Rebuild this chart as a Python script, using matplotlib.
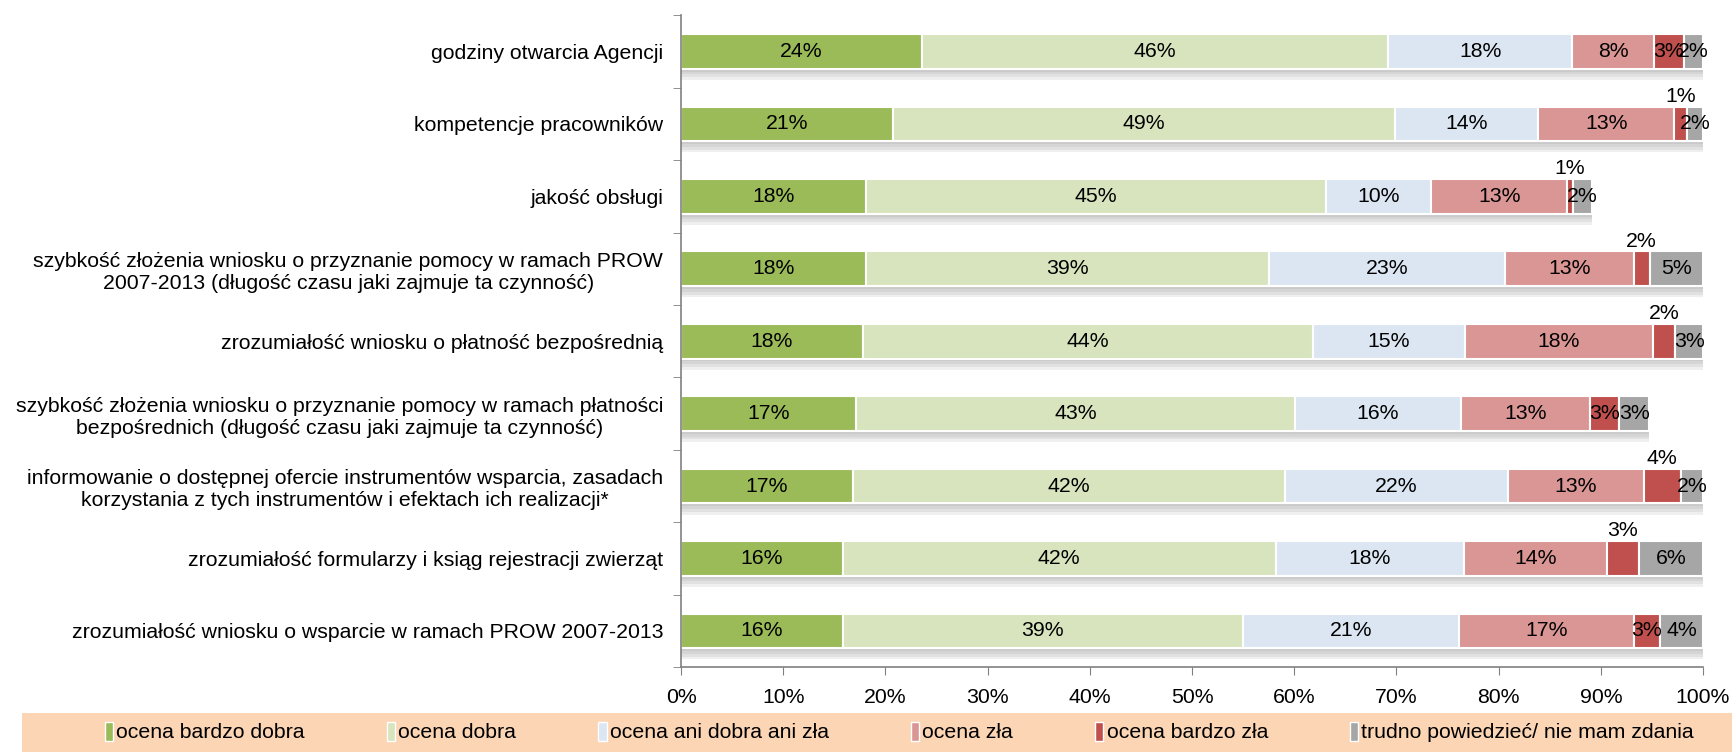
import matplotlib
matplotlib.use("Agg")
import matplotlib.pyplot as plt
import matplotlib.patheffects as pe
from matplotlib.patches import Patch, Rectangle
import numpy as np

plt.rcParams['font.family'] = ['Liberation Sans', 'DejaVu Sans']

categories = [
    "godziny otwarcia Agencji",
    "kompetencje pracowników",
    "jakość obsługi",
    "szybkość złożenia wniosku o przyznanie pomocy w ramach PROW\n2007-2013 (długość czasu jaki zajmuje ta czynność)",
    "zrozumiałość wniosku o płatność bezpośrednią",
    "szybkość złożenia wniosku o przyznanie pomocy w ramach płatności\nbezpośrednich (długość czasu jaki zajmuje ta czynność)",
    "informowanie o dostępnej ofercie instrumentów wsparcia, zasadach\nkorzystania z tych instrumentów i efektach ich realizacji*",
    "zrozumiałość formularzy i ksiąg rejestracji zwierząt",
    "zrozumiałość wniosku o wsparcie w ramach PROW 2007-2013",
]

series_names = ["ocena bardzo dobra", "ocena dobra", "ocena ani dobra ani zła",
                "ocena zła", "ocena bardzo zła", "trudno powiedzieć/ nie mam zdania"]

bardzo_dobra = [23.6, 20.7, 18.1, 18.1, 17.8, 17.1, 16.8, 15.8, 15.8]
dobra        = [45.6, 49.2, 45.0, 39.4, 44.0, 43.0, 42.3, 42.4, 39.2]
ani_ani      = [18.0, 14.0, 10.3, 23.1, 14.9, 16.2, 21.8, 18.4, 21.1]
zla          = [8.0, 13.3, 13.3, 12.6, 18.4, 12.6, 13.3, 14.0, 17.1]
bardzo_zla   = [2.9, 1.2, 0.6, 1.6, 2.2, 2.9, 3.6, 3.1, 2.6]
trudno       = [1.9, 1.6, 1.8, 5.2, 2.7, 2.9, 2.2, 6.3, 4.2]

colors = ["#9BBB59", "#D7E4BD", "#DCE6F2", "#D99694", "#C0504D", "#A6A6A6"]

# rows where the "bardzo zła" label sits above the bar
raised = [1, 2, 3, 4, 6, 7]

FS = 15.3

fig = plt.figure(figsize=(17.33, 7.52), dpi=100)
ax = fig.add_axes([0.393, 0.1128, 0.5897, 0.8669])

data = [bardzo_dobra, dobra, ani_ani, zla, bardzo_zla, trudno]
y = np.arange(len(categories))
left = np.zeros(len(categories))
shadow = [pe.SimplePatchShadow(offset=(0, -d), shadow_rgbFace="#808080", alpha=0.12)
          for d in (2, 4, 6, 8)] + [pe.Normal()]

for k, (vals, col) in enumerate(zip(data, colors)):
    vals = np.array(vals)
    bars = ax.barh(y, vals, left=left, height=0.48, color=col,
                   edgecolor="white", linewidth=1.5, zorder=2)
    for b in bars:
        b.set_path_effects(shadow)
    for i, v in enumerate(vals):
        cx = left[i] + v / 2
        txt = f"{int(v + 0.5)}%"
        if k == 4 and i in raised:
            ax.text(cx, y[i] - 0.25, txt, ha="center", va="bottom", fontsize=FS, zorder=3)
        else:
            ax.text(cx, y[i], txt, ha="center", va="center", fontsize=FS, zorder=3)
    left += vals

ax.set_xlim(0, 100)
ax.set_ylim(len(categories) - 0.5, -0.5)
ax.set_yticks(y)
ax.set_yticklabels(categories, fontsize=FS)
for t in ax.get_yticklabels():
    t.set_multialignment("center")
ax.set_yticks(np.arange(-0.5, len(categories), 1.0), minor=True)
ax.tick_params(axis="y", which="major", length=0, pad=13)
ax.tick_params(axis="y", which="minor", length=6, color="#808080", direction="out")
ax.set_xticks(np.arange(0, 101, 10))
ax.set_xticklabels([f"{v}%" for v in range(0, 101, 10)], fontsize=FS)
ax.tick_params(axis="x", length=6, color="#808080", pad=9)

for s in ["top", "right"]:
    ax.spines[s].set_visible(False)
for s in ["left", "bottom"]:
    ax.spines[s].set_color("#808080")
    ax.spines[s].set_linewidth(1.2)

# legend band
fig.patches.append(Rectangle((22 / 1733, 0), 1 - 22 / 1733, 39 / 752,
                             transform=fig.transFigure, facecolor="#FCD5B5",
                             edgecolor="none", zorder=0))
handles = [Patch(facecolor=c, edgecolor="white") for c in colors]
fig.legend(handles, series_names, loc="center", bbox_to_anchor=(0.519, 20 / 752),
           ncol=6, frameon=False, fontsize=FS, handlelength=0.4, handleheight=1.0,
           handletextpad=0.15, columnspacing=3.85)

fig.savefig("out.png", dpi=100)
